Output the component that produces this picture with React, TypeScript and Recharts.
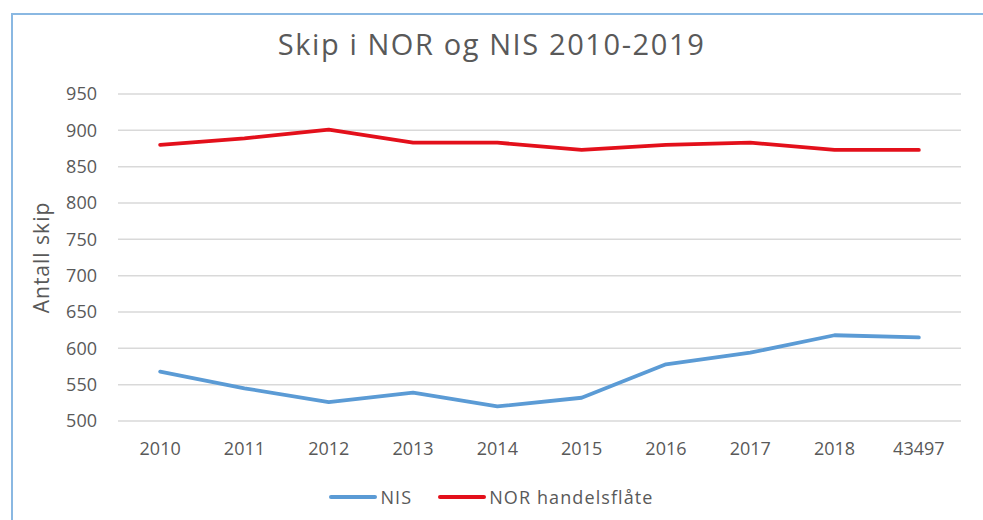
import {
  CartesianGrid,
  Legend,
  Line,
  LineChart,
  XAxis,
  YAxis,
} from "recharts";

const years = ["2010", "2011", "2012", "2013", "2014", "2015", "2016", "2017", "2018", "43497"];
const nis = [568, 545, 526, 539, 520, 532, 578, 594, 618, 615];
const nor = [880, 889, 901, 883, 883, 873, 880, 883, 873, 873];
const yTicks = [500, 550, 600, 650, 700, 750, 800, 850, 900, 950];

const series = [
  { key: "NIS", color: "#5b9bd5", values: nis },
  { key: "NOR handelsflåte", color: "#e3101b", values: nor },
];

const rows = years.map((year, i) => {
  const row: Record<string, number | string> = { idx: i, year };
  series.forEach((s) => (row[s.key] = s.values[i]));
  return row;
});

const labelTicks = years.map((_, i) => i);
const boundaryTicks = years.map((_, i) => i - 0.5).concat(years.length - 0.5);
const xDomain = [-0.5, years.length - 0.5];

const textColor = "#595959";
const gridColor = "#d9d9d9";

function LegendContent() {
  return (
    <div
      style={{
        display: "flex",
        justifyContent: "center",
        alignItems: "center",
        height: 24,
        fontSize: 18,
        color: textColor,
      }}
    >
      {series.map((s, i) => (
        <div
          key={s.key}
          style={{ display: "flex", alignItems: "center", marginLeft: i ? 26 : 0 }}
        >
          <svg width={48} height={6} style={{ marginRight: 3 }}>
            <line x1={2} y1={3} x2={46} y2={3} stroke={s.color} strokeWidth={4} strokeLinecap="round" />
          </svg>
          <span style={{ letterSpacing: 1.1 }}>{s.key}</span>
        </div>
      ))}
    </div>
  );
}

function YLabel({ viewBox }: any) {
  const cy = viewBox.y + viewBox.height / 2;
  return (
    <text
      x={49}
      y={cy}
      transform={`rotate(-90 49 ${cy})`}
      textAnchor="middle"
      fill={textColor}
      fontSize={21}
      letterSpacing={1}
    >
      Antall skip
    </text>
  );
}

export default function App() {
  return (
    <div
      style={{
        position: "absolute",
        left: 0,
        top: 0,
        width: 983,
        height: 520,
        background: "#fff",
        fontFamily: "'Open Sans', sans-serif",
        overflow: "hidden",
      }}
    >
      <div
        style={{
          position: "absolute",
          left: 11,
          top: 13,
          right: -4,
          bottom: -4,
          borderTop: "2px solid #8ab8e2",
          borderLeft: "2px solid #8ab8e2",
        }}
      />
      <div
        style={{
          position: "absolute",
          left: 0,
          top: 24,
          width: 983,
          textAlign: "center",
          fontSize: 29,
          letterSpacing: 1.6,
          color: textColor,
          lineHeight: "40px",
        }}
      >
        Skip i NOR og NIS 2010-2019
      </div>
      <LineChart
        width={983}
        height={520}
        data={rows}
        margin={{ top: 94, right: 22, bottom: 35, left: 0 }}
      >
        <CartesianGrid
          xAxisId="x"
          vertical={false}
          stroke={gridColor}
          strokeWidth={1.5}
        />
        <XAxis
          xAxisId="b"
          type="number"
          dataKey="idx"
          domain={xDomain}
          ticks={boundaryTicks}
          tick={false}
          tickSize={6}
          tickLine={{ stroke: gridColor, strokeWidth: 1.5 }}
          axisLine={{ stroke: gridColor, strokeWidth: 1.5 }}
          height={0}
        />
        <XAxis
          xAxisId="x"
          type="number"
          dataKey="idx"
          domain={xDomain}
          ticks={labelTicks}
          tickFormatter={(v: number) => years[v]}
          interval={0}
          axisLine={false}
          tickLine={false}
          tickMargin={15}
          tick={{ fill: textColor, fontSize: 18 }}
          height={40}
        />
        <YAxis
          domain={[500, 950]}
          ticks={yTicks}
          interval={0}
          axisLine={false}
          tickLine={false}
          tickMargin={15}
          width={118}
          tick={{ fill: textColor, fontSize: 18 }}
          label={{ content: YLabel }}
        />
        {series.map((s) => (
          <Line
            key={s.key}
            xAxisId="x"
            type="linear"
            dataKey={s.key}
            stroke={s.color}
            strokeWidth={3.8}
            strokeLinecap="round"
            strokeLinejoin="round"
            dot={false}
            activeDot={false}
            isAnimationActive={false}
          />
        ))}
        <Legend
          content={LegendContent}
          wrapperStyle={{ top: 485, left: 0, width: 983 }}
        />
      </LineChart>
    </div>
  );
}
